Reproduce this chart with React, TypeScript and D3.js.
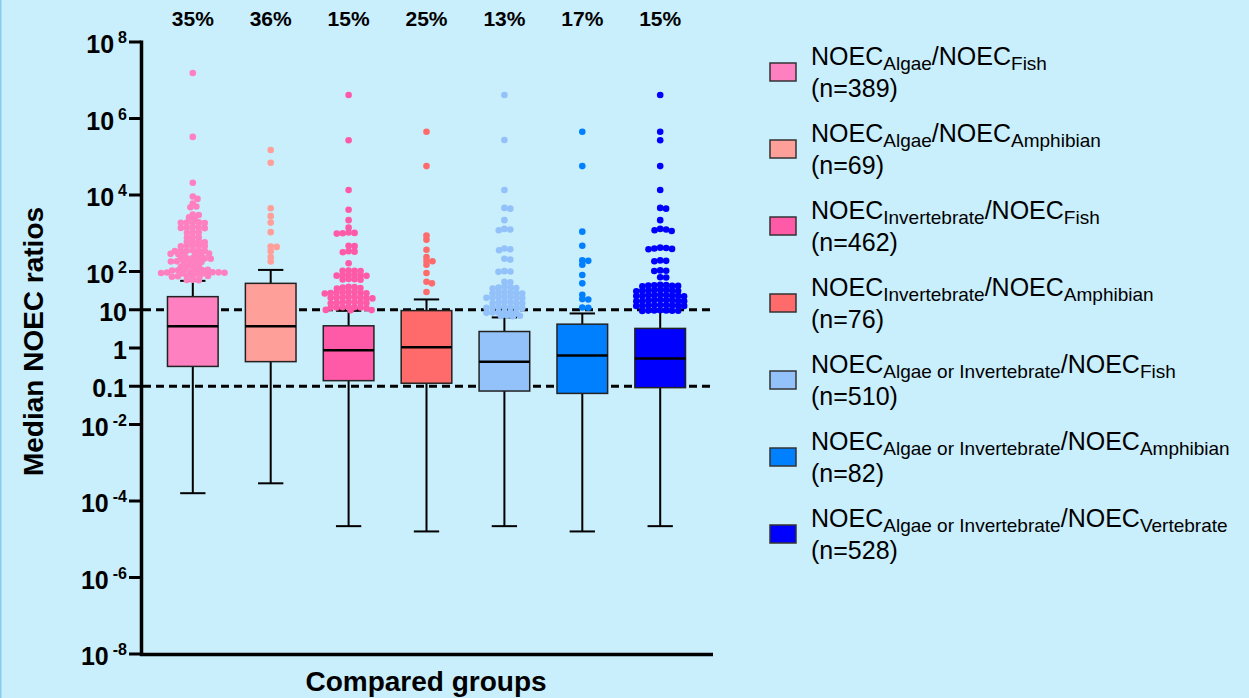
import React, { useEffect, useRef } from 'react';
import * as d3 from 'd3';

const groups = ['AlgaeFish', 'AlgaeAmph', 'InvFish', 'InvAmph', 'AoIFish', 'AoIAmph', 'AoIVert'];
const percentLabels = ['35%', '36%', '15%', '25%', '13%', '17%', '15%'];
const fills = ['#FF80C0', '#FF9F9A', '#FF5AA8', '#FF6B6B', '#93C1F9', '#0080FF', '#0000FF'];

// box plot stats per group
const whiskerLow = [1.6e-4, 2.9e-4, 2.2e-5, 1.6e-5, 2.2e-5, 1.6e-5, 2.2e-5];
const q1 = [0.33, 0.44, 0.14, 0.12, 0.075, 0.065, 0.092];
const medians = [3.7, 3.7, 0.87, 1.05, 0.44, 0.64, 0.53];
const q3 = [22, 49, 3.8, 9.5, 2.7, 4.2, 3.25];
const whiskerHigh = [57, 110, 9.4, 18.6, 6.3, 8, 9];

// points beyond the upper whisker
const outliers1 = [1.55e7, 3.3e5, 2.1e4, 9.1e3, 7.9e3, 6.0e3, 5.0e3, 4.8e3, 3.1e3, 3.0e3, 2.5e3, 2.6e3,
  1.9e3, 1.95e3, 1.85e3, 1.92e3, 1.88e3, 1.4e3, 1.42e3, 1.38e3, 1.45e3, 1.36e3, 1.05e3, 1.02e3, 1.08e3,
  780, 760, 800, 590, 600, 580, 610, 470, 460, 480, 455, 475, 350, 345, 355, 340, 360, 348,
  290, 285, 295, 288, 292, 282, 224, 218, 222, 215, 226, 220, 182, 178, 185, 176, 180, 184,
  135, 132, 138, 134, 110, 108, 112, 106, 111, 109, 93, 95, 92, 90, 96, 94, 91, 97, 89,
  76, 75, 78, 74, 77, 73, 60, 61, 59];
const outliers2 = [1.5e5, 7e4, 4.5e3, 2.8e3, 1.9e3, 1.07e3, 450, 440, 340, 240, 183];
const outliers3 = [4.1e6, 2.7e5, 1.35e4, 4.1e3, 2.2e3, 1.4e3, 1.0e3, 1.05e3, 980, 1.02e3, 470, 460,
  330, 340, 320, 165, 105, 104, 106, 103, 80, 79, 81, 78, 82, 77, 63, 62, 64, 61, 38, 37, 39, 36, 40,
  28, 27.5, 28.5, 27, 29, 26.5, 29.5, 28.2, 21, 20.5, 21.5, 20, 22, 20.8, 21.2, 19.8,
  15.5, 15, 16, 14.8, 16.2, 15.3, 15.7, 11.5, 11.3, 11.7, 11, 12, 11.4, 11.6, 9.8, 9.9, 9.7];
const outliers4 = [4.5e5, 5.7e4, 870, 680, 370, 240, 190, 185, 150, 91, 54, 49, 29];
const outliers5 = [4.1e6, 2.75e5, 1.35e4, 4.6e3, 4.4e3, 2.2e3, 1.25e3, 1.2e3, 1.3e3, 380, 360, 400,
  215, 205, 100, 98, 102, 54, 52, 38, 37, 39, 36, 40, 28, 27.5, 28.5, 27, 29, 26.5,
  21, 20.5, 21.5, 20, 22, 20.8, 21.2, 15.5, 15, 16, 14.8, 16.2, 15.3,
  11.5, 11.3, 11.7, 11, 12, 11.4, 11.6, 8.5, 8.4, 8.6, 8.3, 8.7, 8.45, 6.9, 7.0, 6.8, 7.1];
const outliers6 = [4.5e5, 5.7e4, 1.1e3, 470, 195, 190, 150, 81, 49, 24.5, 19, 18.6, 11.5, 11.3];
const outliers7 = [4.1e6, 4.5e5, 2.7e5, 5.7e4, 1.35e4, 4.6e3, 4.4e3, 2.2e3, 1.25e3, 1.2e3, 1.3e3, 1.15e3,
  400, 390, 410, 380, 420, 190, 185, 195, 105, 103, 107, 71, 70,
  43, 42, 44, 41, 45, 42.5, 43.5, 32, 31.5, 32.5, 31, 33, 30.5, 33.5, 31.8,
  23.5, 23, 24, 22.5, 24.5, 23.2, 23.8, 22.8, 24.2, 17.4, 17, 17.8, 16.8, 18, 17.2, 17.6, 16.6, 18.2,
  12.9, 12.7, 13.1, 12.5, 13.3, 12.8, 13, 12.6, 13.2, 9.5, 9.6, 9.4, 9.7, 9.3, 9.55, 9.45];
const outliers = [outliers1, outliers2, outliers3, outliers4, outliers5, outliers6, outliers7];

const yTicks = [1e8, 1e6, 1e4, 1e2, 10, 1, 0.1, 1e-2, 1e-4, 1e-6, 1e-8];
const refLines = [10, 0.1];

const numSub = ['Algae', 'Algae', 'Invertebrate', 'Invertebrate', 'Algae or Invertebrate', 'Algae or Invertebrate', 'Algae or Invertebrate'];
const denSub = ['Fish', 'Amphibian', 'Fish', 'Amphibian', 'Fish', 'Amphibian', 'Vertebrate'];
const nCounts = [389, 69, 462, 76, 510, 82, 528];

// greedy beeswarm, vertical distance weighted by k so close rows may overlap a little
function swarm(vals: number[], yPos: (v: number) => number, d: number, k: number) {
  const pts = vals.map((v) => ({ v, y: yPos(v), x: 0 })).sort((a, b) => a.y - b.y);
  const placed: { x: number; y: number }[] = [];
  for (const p of pts) {
    const near = placed.filter((q) => Math.abs(q.y - p.y) * k < d);
    const cands = [0];
    near.forEach((q) => {
      const dx = Math.sqrt(d * d - ((q.y - p.y) * k) ** 2);
      cands.push(q.x + dx, q.x - dx);
    });
    cands.sort((a, b) => Math.abs(a) - Math.abs(b) || b - a);
    const ok = cands.find((c) => near.every((q) => (q.x - c) ** 2 + ((q.y - p.y) * k) ** 2 >= d * d - 0.01));
    p.x = ok ?? 0;
    placed.push(p);
  }
  return pts;
}

const App = () => {
  const svgRef = useRef<SVGSVGElement>(null);

  useEffect(() => {
    if (!svgRef.current) return;
    const svg = d3.select(svgRef.current);
    svg.selectAll('*').remove();

    const W = 1249;
    const H = 698;
    const font = '"Liberation Sans", Arial, sans-serif';

    svg.append('rect').attr('width', W).attr('height', H).attr('fill', '#C9EEFC');
    svg.append('line').attr('x1', 0.75).attr('x2', 0.75).attr('y1', 0).attr('y2', H)
      .attr('stroke', '#86CDEF').attr('stroke-width', 1.5);

    const x = d3.scaleBand().domain(groups).range([141, 712]).paddingInner(0.35).paddingOuter(0.34);
    const y = d3.scaleLog().domain([1e-8, 1e8]).range([654, 42]);
    const bw = x.bandwidth();

    // dashed reference lines
    svg.append('g').selectAll('line').data(refLines).enter().append('line')
      .attr('x1', 143).attr('x2', 712)
      .attr('y1', (d) => y(d)).attr('y2', (d) => y(d))
      .attr('stroke', '#000').attr('stroke-width', 3).attr('stroke-dasharray', '8,5');

    const g = svg.append('g');
    groups.forEach((k, i) => {
      const cx = (x(k) as number) + bw / 2;
      // whiskers
      g.append('line').attr('x1', cx).attr('x2', cx).attr('y1', y(q3[i])).attr('y2', y(whiskerHigh[i]))
        .attr('stroke', '#000').attr('stroke-width', 2);
      g.append('line').attr('x1', cx).attr('x2', cx).attr('y1', y(q1[i])).attr('y2', y(whiskerLow[i]))
        .attr('stroke', '#000').attr('stroke-width', 2);
      [whiskerHigh[i], whiskerLow[i]].forEach((w) => {
        g.append('line').attr('x1', cx - bw / 4).attr('x2', cx + bw / 4).attr('y1', y(w)).attr('y2', y(w))
          .attr('stroke', '#000').attr('stroke-width', 2);
      });
      // box
      g.append('rect').attr('x', x(k) as number).attr('width', bw)
        .attr('y', y(q3[i])).attr('height', y(q1[i]) - y(q3[i]))
        .attr('fill', fills[i]).attr('stroke', '#222').attr('stroke-width', 1.5);
      g.append('line').attr('x1', x(k) as number).attr('x2', (x(k) as number) + bw)
        .attr('y1', y(medians[i])).attr('y2', y(medians[i]))
        .attr('stroke', '#000').attr('stroke-width', 2.5);
      // outlier dots
      const pts = swarm(outliers[i], (v) => y(v), 6, 1.6);
      g.append('g').selectAll('circle').data(pts).enter().append('circle')
        .attr('cx', (d) => cx + d.x).attr('cy', (d) => d.y).attr('r', 3.3)
        .attr('fill', fills[i]);
      // percent label
      svg.append('text').attr('x', cx).attr('y', 26).attr('text-anchor', 'middle')
        .attr('font-family', font).attr('font-weight', 'bold').attr('font-size', 21)
        .attr('fill', '#000').text(percentLabels[i]);
    });

    // axes
    svg.append('line').attr('x1', 141.5).attr('x2', 141.5).attr('y1', 40.5).attr('y2', 656)
      .attr('stroke', '#000').attr('stroke-width', 3.5);
    svg.append('line').attr('x1', 140).attr('x2', 713).attr('y1', 654.5).attr('y2', 654.5)
      .attr('stroke', '#000').attr('stroke-width', 3.5);

    const ticks = svg.append('g');
    yTicks.forEach((t) => {
      ticks.append('line').attr('x1', 129).attr('x2', 141).attr('y1', y(t)).attr('y2', y(t))
        .attr('stroke', '#000').attr('stroke-width', 3);
      const lab = ticks.append('text').attr('x', 127).attr('y', y(t) + 11).attr('text-anchor', 'end')
        .attr('font-family', font).attr('font-weight', 'bold').attr('font-size', 25).attr('fill', '#000');
      const e = Math.round(Math.log10(t));
      if (e === 1) lab.text('10');
      else if (e === 0) lab.text('1');
      else if (e === -1) lab.text('0.1');
      else {
        lab.append('tspan').text('10');
        lab.append('tspan').attr('dx', 4).attr('dy', -10).attr('font-size', 16).text(String(e));
      }
    });

    svg.append('text').attr('transform', 'translate(43,341.5) rotate(-90)').attr('text-anchor', 'middle')
      .attr('font-family', font).attr('font-weight', 'bold').attr('font-size', 28).attr('fill', '#000')
      .text('Median NOEC ratios');
    svg.append('text').attr('x', 426).attr('y', 691).attr('text-anchor', 'middle')
      .attr('font-family', font).attr('font-weight', 'bold').attr('font-size', 28).attr('fill', '#000')
      .text('Compared groups');

    // legend
    const ly = d3.scalePoint().domain(groups).range([72, 534]);
    const legend = svg.append('g').attr('font-family', font).attr('fill', '#000');
    groups.forEach((k, i) => {
      const cy = ly(k) as number;
      legend.append('rect').attr('x', 770).attr('y', cy - 9).attr('width', 26).attr('height', 18)
        .attr('fill', fills[i]).attr('stroke', '#333').attr('stroke-width', 1.5);
      const t = legend.append('text').attr('x', 811).attr('y', cy - 7).attr('font-size', 25);
      t.append('tspan').text('NOEC');
      t.append('tspan').attr('font-size', 19).attr('dy', 5).text(numSub[i]);
      t.append('tspan').attr('dy', -5).text('/NOEC');
      t.append('tspan').attr('font-size', 19).attr('dy', 5).text(denSub[i]);
      legend.append('text').attr('x', 811).attr('y', cy + 24.5).attr('font-size', 25).text(`(n=${nCounts[i]})`);
    });
  }, []);

  return (
    <svg ref={svgRef} width={1249} height={698} style={{ position: 'absolute', left: 0, top: 0 }} />
  );
};

export default App;
